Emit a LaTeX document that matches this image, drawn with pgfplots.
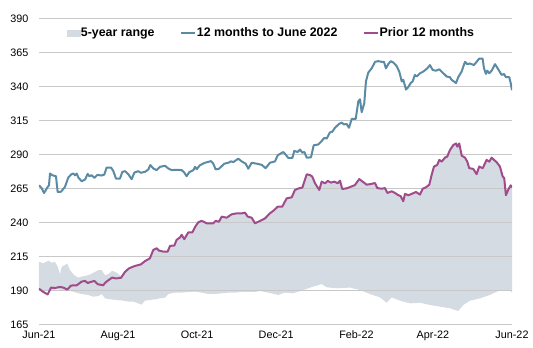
\documentclass[border=0pt]{standalone}
\usepackage{fontspec}
\setmainfont{Liberation Sans}
\usepackage{pgfplots}
\pgfplotsset{compat=1.18}
\usepgfplotslibrary{fillbetween}
\usepackage{pgfplotstable}
\definecolor{bandgray}{HTML}{D5DBE2}
\definecolor{lineblue}{HTML}{5B8BA4}
\definecolor{linepurple}{HTML}{A04B8B}
\definecolor{gridgray}{HTML}{C8C8C8}

% x = days since 1 June 2021
\pgfplotstableread{
d v
0 267.7
2 265.7
3.9 262.0
6.7 266.5
7.7 267.7
8.5 276.4
10.3 275.1
13.1 274.4
14.4 262.8
17 263.0
20 266.5
22.6 273.4
24.7 275.6
26.5 276.4
27.8 275.1
29.1 276.4
30.4 273.4
32.9 270.7
35.5 271.9
37.6 276.1
38.8 274.4
40.6 275.1
42.7 273.2
45 275.4
48.3 274.9
50.4 275.6
52.2 280.8
55.6 280.8
57.4 278.1
59.4 272.7
62.5 272.7
64.3 277.6
66.4 278.1
68.9 275.9
71.5 272.2
73.6 277.1
76.6 278.1
78.7 276.9
80.5 277.4
81.8 277.6
84.4 279.4
85.9 282.6
88.2 280.1
90.8 278.9
93.4 281.3
97.2 282.1
99.8 280.1
102.4 278.9
106.2 279.1
110.1 278.9
112.1 277.1
113.9 274.4
116 277.4
119.1 278.9
120.4 281.3
121.7 279.6
124.2 282.5
128.1 284.3
132.7 285.5
134.5 283.6
136.3 279.4
138.9 279.9
143 283.6
146.1 284.3
148.1 285.3
150 284.8
153.8 287.3
156.4 285.3
159.5 283.6
161.5 279.9
164.1 284.3
168 283.6
171.8 282.8
174.9 280.3
178.2 284.3
182.1 285.3
184.2 289.8
188.5 292.2
190.4 290.2
192.4 287.8
195.5 287.8
197 293.0
199.6 292.2
201.4 294.0
203.2 291.7
204.8 292.2
206.6 288.0
209.9 288.3
212 297.2
215.5 297.7
217.6 299.7
220.2 302.6
222 302.1
224.5 306.6
226.3 307.1
228.4 310.0
231.5 312.8
233.6 313.8
235.3 312.5
237.4 312.8
239.2 310.0
241.3 316.5
244.4 316.5
246.4 329.4
247.7 331.0
249 321.4
251 328.1
252.3 344.1
254.1 350.6
256.7 353.7
259.3 358.5
261.8 359.0
264.4 358.5
266.2 358.5
267.7 353.7
269.5 356.8
271.4 359.0
273.4 358.0
276 355.4
278 351.3
279.9 344.1
281.1 345.3
283.2 338.1
285 340.0
286.8 342.9
288.3 344.1
290.1 348.9
291.4 347.7
294 350.1
296.5 351.3
299.6 353.7
301.7 356.1
303.8 352.5
306.3 352.0
308.9 353.0
312 350.1
314.6 347.7
317.1 347.2
318.4 345.3
321.8 342.9
323.5 347.2
326.1 351.3
328.7 358.5
330.5 356.8
332.6 357.3
335.6 356.1
337.7 358.5
339.7 360.9
342.3 360.9
343.4 353.7
344.9 349.6
345.9 352.0
347.5 350.1
349.3 352.0
351.9 356.8
354.4 353.0
357 348.9
358.8 349.6
360.3 347.2
362.9 347.2
364 342.9
365 337.6
}\bluetab

\pgfplotstableread{
d v
0 191.7
3.3 189.3
6.7 187.5
9.3 192.5
12.3 192.2
16.2 193.0
18.8 192.5
21.8 191.0
24.7 194.0
29.1 194.2
32.9 196.9
35.5 197.4
37.6 195.9
40.1 196.7
42.7 197.4
45.3 195.0
49.6 194.2
50.9 195.9
53.5 197.9
56.6 199.9
59.2 199.2
63.3 199.7
66.4 204.1
69.4 206.6
73.6 208.3
78.7 209.6
81.8 212.0
85.6 214.0
88.2 220.2
90.8 221.4
92.6 219.7
95.9 219.0
99.3 219.0
101.1 223.2
104.4 223.4
106.2 227.6
108.8 229.4
110.1 231.3
112.1 228.1
115.2 233.1
118.3 233.1
120.4 237.0
122.9 240.5
125.5 241.6
129.4 239.8
134.5 239.8
136.3 241.5
138.9 241.0
141 244.7
144.8 243.9
148.7 246.4
152.5 247.1
156.4 247.1
159 247.6
161 244.7
164.1 243.9
166.7 239.8
170.5 241.5
174.4 243.4
178.2 247.1
181.6 249.6
184.2 252.0
187.7 252.0
191.1 258.1
195 258.9
197.5 264.3
200.6 265.5
203.2 266.0
206.6 275.8
209.1 275.3
210.9 274.1
213 269.2
216.3 264.3
218.1 270.4
220.7 269.2
222.8 270.9
225.3 269.7
227.9 270.4
230.5 269.2
232.3 271.1
234 265.0
237.4 265.5
240.7 266.7
243.8 267.9
247.1 272.3
250.2 270.1
252.8 268.2
255.9 268.6
259.3 269.4
261 265.7
264.4 265.2
267 265.7
268.8 262.1
272.1 263.3
274.7 262.1
276.5 260.9
279.1 259.7
281.1 256.0
282.4 261.4
285 260.4
287.6 261.4
290.9 262.8
294 260.9
296.1 265.2
298.6 266.2
301.2 268.2
303 275.4
304.8 281.5
307.3 282.7
308.9 286.4
310.7 285.1
313.3 288.1
315 288.8
317.1 293.6
319.7 297.3
321.8 298.5
322.8 296.1
324.3 298.5
326.2 289.5
328.7 288.1
330.5 285.1
332 280.3
335.1 279.8
337.7 275.9
339.7 281.5
342.4 280.3
345.4 286.4
347.5 285.1
349.3 288.1
351.1 286.4
353.2 284.7
355.7 281.5
357.8 274.2
359 273.0
360.3 260.4
362.1 264.5
364 267.7
365 266.2
}\purpletab

\pgfplotstableread{
d v
0 211.5
3.3 210.3
7.2 212.3
9.8 210.8
12.3 211.5
14.4 207.8
16.2 202.4
17.5 207.8
20.1 209.1
21.8 210.3
23.9 205.3
27.2 201.6
30.3 199.9
34.2 200.9
38 201.6
41.9 203.4
45.8 205.3
48.4 205.3
50.9 201.6
53.5 202.4
56.6 204.9
60 203.4
63.3 200.9
66.4 204.1
69.4 206.6
73.6 208.3
78.7 209.6
81.8 212.0
85.6 214.0
88.2 220.2
90.8 221.4
92.6 219.7
95.9 219.0
99.3 219.0
101.1 223.2
104.4 223.4
106.2 227.6
108.8 229.4
110.1 231.3
112.1 228.1
115.2 233.1
118.3 233.1
120.4 237.0
122.9 240.5
125.5 241.6
129.4 239.8
134.5 239.8
136.3 241.5
138.9 241.0
141 244.7
144.8 243.9
148.7 246.4
152.5 247.1
156.4 247.1
159 247.6
161 244.7
164.1 243.9
166.7 239.8
170.5 241.5
174.4 243.4
178.2 247.1
181.6 249.6
184.2 252.0
187.7 252.0
191.1 258.1
195 258.9
197.5 264.3
200.6 265.5
203.2 266.0
206.6 275.8
209.1 275.3
210.9 274.1
213 269.2
216.3 264.3
218.1 270.4
220.7 269.2
222.8 270.9
225.3 269.7
227.9 270.4
230.5 269.2
232.3 271.1
234 265.0
237.4 265.5
240.7 266.7
243.8 267.9
247.1 272.3
250.2 270.1
252.8 268.2
255.9 268.6
259.3 269.4
261 265.7
264.4 265.2
267 265.7
268.8 262.1
272.1 263.3
274.7 262.1
276.5 260.9
279.1 259.7
281.1 256.0
282.4 261.4
285 260.4
287.6 261.4
290.9 262.8
294 260.9
296.1 265.2
298.6 266.2
301.2 268.2
303 275.4
304.8 281.5
307.3 282.7
308.9 286.4
310.7 285.1
313.3 288.1
315 288.8
317.1 293.6
319.7 297.3
321.8 298.5
322.8 296.1
324.3 298.5
326.2 289.5
328.7 288.1
330.5 285.1
332 280.3
335.1 279.8
337.7 275.9
339.7 281.5
342.4 280.3
345.4 286.4
347.5 285.1
349.3 288.1
351.1 286.4
353.2 284.7
355.7 281.5
357.8 274.2
359 273.0
360.3 260.4
362.1 264.5
364 267.7
365 266.2
}\uppertab

\pgfplotstableread{
d v
0 190.2
3.3 189.5
6.7 190.2
11 190.7
14.9 191.2
18.8 190.2
22.6 190.2
26.5 189.5
30.3 188.3
34.2 187.6
38 187.1
41.9 185.8
45.8 186.3
48.4 187.8
50.9 184.6
54.8 183.9
60 183.4
65 182.9
68.9 182.2
72.8 182.2
76.6 180.9
79.2 180.0
81.8 182.9
85.6 183.4
89.5 183.9
93.4 184.6
97.2 185.1
99.8 187.8
104.9 188.8
110.1 188.8
115.2 189.3
120.4 189.5
125.5 188.8
130.6 187.8
135.8 187.8
141 188.3
146.1 188.8
151.2 188.8
156.4 189.3
161.5 189.3
166.7 189.3
170.5 190.0
176.9 188.8
184.6 187.1
189.8 188.8
196.2 188.3
203.9 190.7
211.6 193.2
218.1 195.1
222 192.7
229.7 192.0
240 192.5
247.7 190.7
255.4 187.8
263.1 185.3
268.3 181.4
272.1 185.3
278.5 182.9
286.3 180.9
294 181.4
301.7 179.7
309.4 178.5
317.1 177.3
323.5 175.3
327.4 179.7
332.6 182.9
340.3 184.6
348 187.1
353.2 189.5
358.3 190.7
363.4 190.7
365 188.8
}\lowertab

\begin{document}
\begin{tikzpicture}
\begin{axis}[
  set layers,
  scale only axis,
  width=473pt, height=306pt,
  xmin=0, xmax=365, ymin=165, ymax=390,
  xtick={0,61,122,183,245,304,365},
  xticklabels={Jun-21,Aug-21,Oct-21,Dec-21,Feb-22,Apr-22,Jun-22},
  ytick={165,190,215,240,265,290,315,340,365,390},
  ymajorgrids,
  major grid style={gridgray, line width=1pt},
  axis line style={draw=none},
  tick style={draw=none},
  /pgf/number format/assume math mode=true,
  ticklabel style={font=\fontsize{10.8}{12}\selectfont},
  yticklabel style={xshift=-7pt},
  xticklabel style={yshift=-2pt},
  legend style={draw=none, fill=none, at={(rel axis cs:0.49,0.954)}, anchor=center,
    font=\fontsize{12.4}{14}\selectfont\bfseries,
    nodes={inner sep=1pt},
    /tikz/every even column/.append style={column sep=24pt}},
  legend columns=3,
]
\addlegendimage{legend image code/.code={\fill[bandgray] (0pt,-3pt) rectangle (13pt,3pt);}}
\addlegendimage{legend image code/.code={\draw[lineblue, line width=2.2pt] (0pt,0pt) -- (14pt,0pt);}}
\addlegendimage{legend image code/.code={\draw[linepurple, line width=2.2pt] (0pt,0pt) -- (14pt,0pt);}}

\addplot[draw=none, name path=U, forget plot] table[x=d, y=v] {\uppertab};
\addplot[draw=none, name path=L, forget plot] table[x=d, y=v] {\lowertab};
\addplot[fill=bandgray, draw=none, forget plot] fill between[of=U and L, on layer=axis background];

\addplot[lineblue, line width=2pt, line join=round, forget plot] table[x=d, y=v] {\bluetab};
\addplot[linepurple, line width=2pt, line join=round, forget plot] table[x=d, y=v] {\purpletab};

\legend{5-year range, 12 months to June 2022, Prior 12 months}

\node[anchor=base west, inner sep=0pt, font=\fontsize{8.2}{9}\selectfont] at ([xshift=3pt, yshift=3.3pt]rel axis cs:0,1) {Jan 2000 = 100};
\end{axis}
\path (current axis.south west) ++(-39pt,-23pt) rectangle ++(533pt,348pt);
\end{tikzpicture}
\end{document}
